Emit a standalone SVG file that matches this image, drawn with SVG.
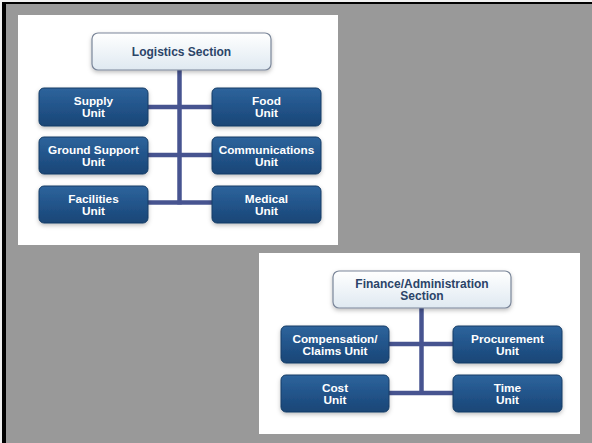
<svg xmlns="http://www.w3.org/2000/svg" width="592" height="443" viewBox="0 0 592 443">
<defs>
<linearGradient id="unitGrad" x1="0" y1="0" x2="0" y2="1">
<stop offset="0" stop-color="#2e649c"/>
<stop offset="0.5" stop-color="#22548a"/>
<stop offset="1" stop-color="#1a4676"/>
</linearGradient>
<linearGradient id="secGrad" x1="0" y1="0" x2="0" y2="1">
<stop offset="0" stop-color="#ffffff"/>
<stop offset="1" stop-color="#dfe9f1"/>
</linearGradient>
<filter id="sh" x="-10%" y="-10%" width="125%" height="140%">
<feDropShadow dx="0" dy="2" stdDeviation="2" flood-color="#000" flood-opacity="0.25"/>
</filter>
</defs>
<style>
.unit rect{fill:url(#unitGrad);stroke:#163d66;stroke-width:1;filter:url(#sh)}
.sec rect{fill:url(#secGrad);stroke:#7a8699;stroke-width:1.2;filter:url(#sh)}
.unit text{fill:#ffffff;font-family:"Liberation Sans",Arial,sans-serif;font-weight:bold;font-size:11.8px;text-anchor:middle}
.sec text{fill:#2b4468;font-family:"Liberation Sans",Arial,sans-serif;font-weight:bold;font-size:12px;text-anchor:middle}
.conn line{stroke:#475490;stroke-width:4.5}
</style>
<rect x="0" y="0" width="592" height="443" fill="#f0f0f0"/>
<rect x="2" y="2" width="590" height="441" fill="#000"/>
<rect x="6" y="4" width="586" height="439" fill="#999999"/>
<rect x="18" y="15" width="320" height="230" fill="#ffffff"/>
<rect x="259" y="253" width="321" height="181" fill="#ffffff"/>

<g id="connectors" class="conn">
<line x1="179.5" y1="70" x2="179.5" y2="204.5"/>
<line x1="148" y1="107" x2="212" y2="107"/>
<line x1="148" y1="155" x2="212" y2="155"/>
<line x1="148" y1="202.5" x2="212" y2="202.5"/>
<line x1="421.5" y1="308" x2="421.5" y2="395"/>
<line x1="389" y1="344" x2="453" y2="344"/>
<line x1="389" y1="393" x2="453" y2="393"/>
</g>

<g id="logistics-section" class="sec">
<rect x="92" y="33" width="179" height="37" rx="6"/>
<text x="181.5" y="56">Logistics Section</text>
</g>
<g id="supply-unit" class="unit">
<rect x="39" y="88" width="109" height="38" rx="5"/>
<text x="93.5" y="104.8">Supply</text><text x="93.5" y="116.8">Unit</text>
</g>
<g id="food-unit" class="unit">
<rect x="212" y="88" width="109" height="38" rx="5"/>
<text x="266.5" y="104.8">Food</text><text x="266.5" y="116.8">Unit</text>
</g>
<g id="ground-support-unit" class="unit">
<rect x="39" y="137" width="109" height="37" rx="5"/>
<text x="93.5" y="153.8">Ground Support</text><text x="93.5" y="165.8">Unit</text>
</g>
<g id="communications-unit" class="unit">
<rect x="212" y="137" width="109" height="37" rx="5"/>
<text x="266.5" y="153.8">Communications</text><text x="266.5" y="165.8">Unit</text>
</g>
<g id="facilities-unit" class="unit">
<rect x="39" y="186" width="109" height="37" rx="5"/>
<text x="93.5" y="202.8">Facilities</text><text x="93.5" y="214.8">Unit</text>
</g>
<g id="medical-unit" class="unit">
<rect x="212" y="186" width="109" height="37" rx="5"/>
<text x="266.5" y="202.8">Medical</text><text x="266.5" y="214.8">Unit</text>
</g>

<g id="finance-section" class="sec">
<rect x="333" y="271" width="178" height="37" rx="6"/>
<text x="422" y="287.6">Finance/Administration</text><text x="422" y="299.6">Section</text>
</g>
<g id="compensation-unit" class="unit">
<rect x="281" y="326" width="108" height="37" rx="5"/>
<text x="335" y="342.8">Compensation/</text><text x="335" y="354.8">Claims Unit</text>
</g>
<g id="procurement-unit" class="unit">
<rect x="453" y="326" width="109" height="37" rx="5"/>
<text x="507.5" y="342.8">Procurement</text><text x="507.5" y="354.8">Unit</text>
</g>
<g id="cost-unit" class="unit">
<rect x="281" y="375" width="108" height="37" rx="5"/>
<text x="335" y="391.8">Cost</text><text x="335" y="403.8">Unit</text>
</g>
<g id="time-unit" class="unit">
<rect x="453" y="375" width="109" height="37" rx="5"/>
<text x="507.5" y="391.8">Time</text><text x="507.5" y="403.8">Unit</text>
</g>
</svg>
